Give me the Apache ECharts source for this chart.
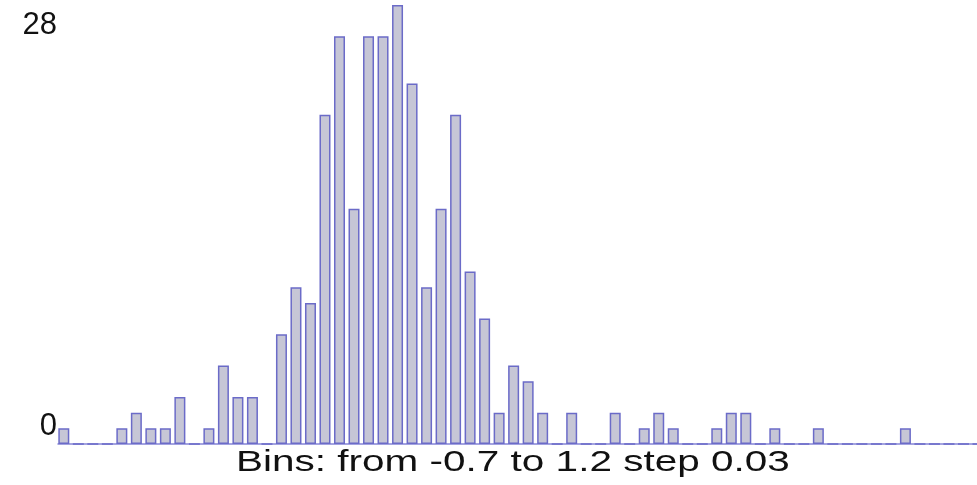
<!DOCTYPE html>
<html>
<head>
<meta charset="utf-8">
<script src="https://cdn.jsdelivr.net/npm/echarts@6/dist/echarts.min.js"></script>
<style>
html,body{margin:0;padding:0;background:#fff;}
#c{width:977px;height:485px;}
</style>
</head>
<body>
<div id="c"></div>
<script>
// Histogram bins
var binStart = -0.7;
var binEnd = 1.2;
var binStep = 0.03;
var counts = [
  1,0,0,0,1,2,1,1,3,0,
  1,5,3,3,0,7,10,9,21,26,
  15,26,26,28,23,10,15,21,11,8,
  2,5,4,2,0,2,0,0,2,0,
  1,2,1,0,0,1,2,2,0,1,
  0,0,1,0,0,0,0,0,1,0,
  0,0,0,0
];
var yTicks = [0, 28];
var caption = 'Bins: from -0.7 to 1.2 step 0.03';

var barData = counts.map(function (c, i) {
  return [binStart + i * binStep + binStep * 0.4, c];
});

var chart = echarts.init(document.getElementById('c'));
chart.setOption({
  animation: false,
  backgroundColor: '#ffffff',
  grid: { left: 58, right: 0, top: 5, bottom: 41, containLabel: false },
  xAxis: {
    type: 'value',
    min: binStart,
    max: binEnd,
    axisLine: { show: true, lineStyle: { color: '#8585d6', width: 1.5 } },
    axisTick: { show: false },
    axisLabel: { show: false },
    splitLine: { show: false }
  },
  yAxis: {
    type: 'value',
    min: yTicks[0],
    max: yTicks[1],
    interval: yTicks[1] - yTicks[0],
    axisLine: { show: false },
    axisTick: { show: false },
    splitLine: { show: false },
    axisLabel: {
      show: true,
      margin: 1,
      color: '#111111',
      fontFamily: 'Liberation Sans, Arial, sans-serif',
      fontSize: 31,
      verticalAlignMinLabel: 'bottom',
      verticalAlignMaxLabel: 'top',
      formatter: function (v) {
        return v === yTicks[1] ? '{t|' + v + '}' : '{b|' + v + '}';
      },
      rich: {
        t: { fontSize: 31, color: '#111111', fontFamily: 'Liberation Sans, Arial, sans-serif', padding: [5, 0, 0, 0] },
        b: { fontSize: 31, color: '#111111', fontFamily: 'Liberation Sans, Arial, sans-serif', padding: [0, 0, 2, 0] }
      }
    }
  },
  graphic: [{
    type: 'text',
    left: 236,
    bottom: 7,
    scaleX: 1.35,
    originX: 0,
    style: {
      text: caption,
      fill: '#111111',
      font: '30px "Liberation Sans", Arial, sans-serif'
    }
  }],
  series: [{
    type: 'bar',
    data: barData,
    barWidth: 11,
    itemStyle: {
      color: '#c6c6d6',
      borderColor: '#6b6bc8',
      borderWidth: 1.5
    }
  }]
});
</script>
</body>
</html>
